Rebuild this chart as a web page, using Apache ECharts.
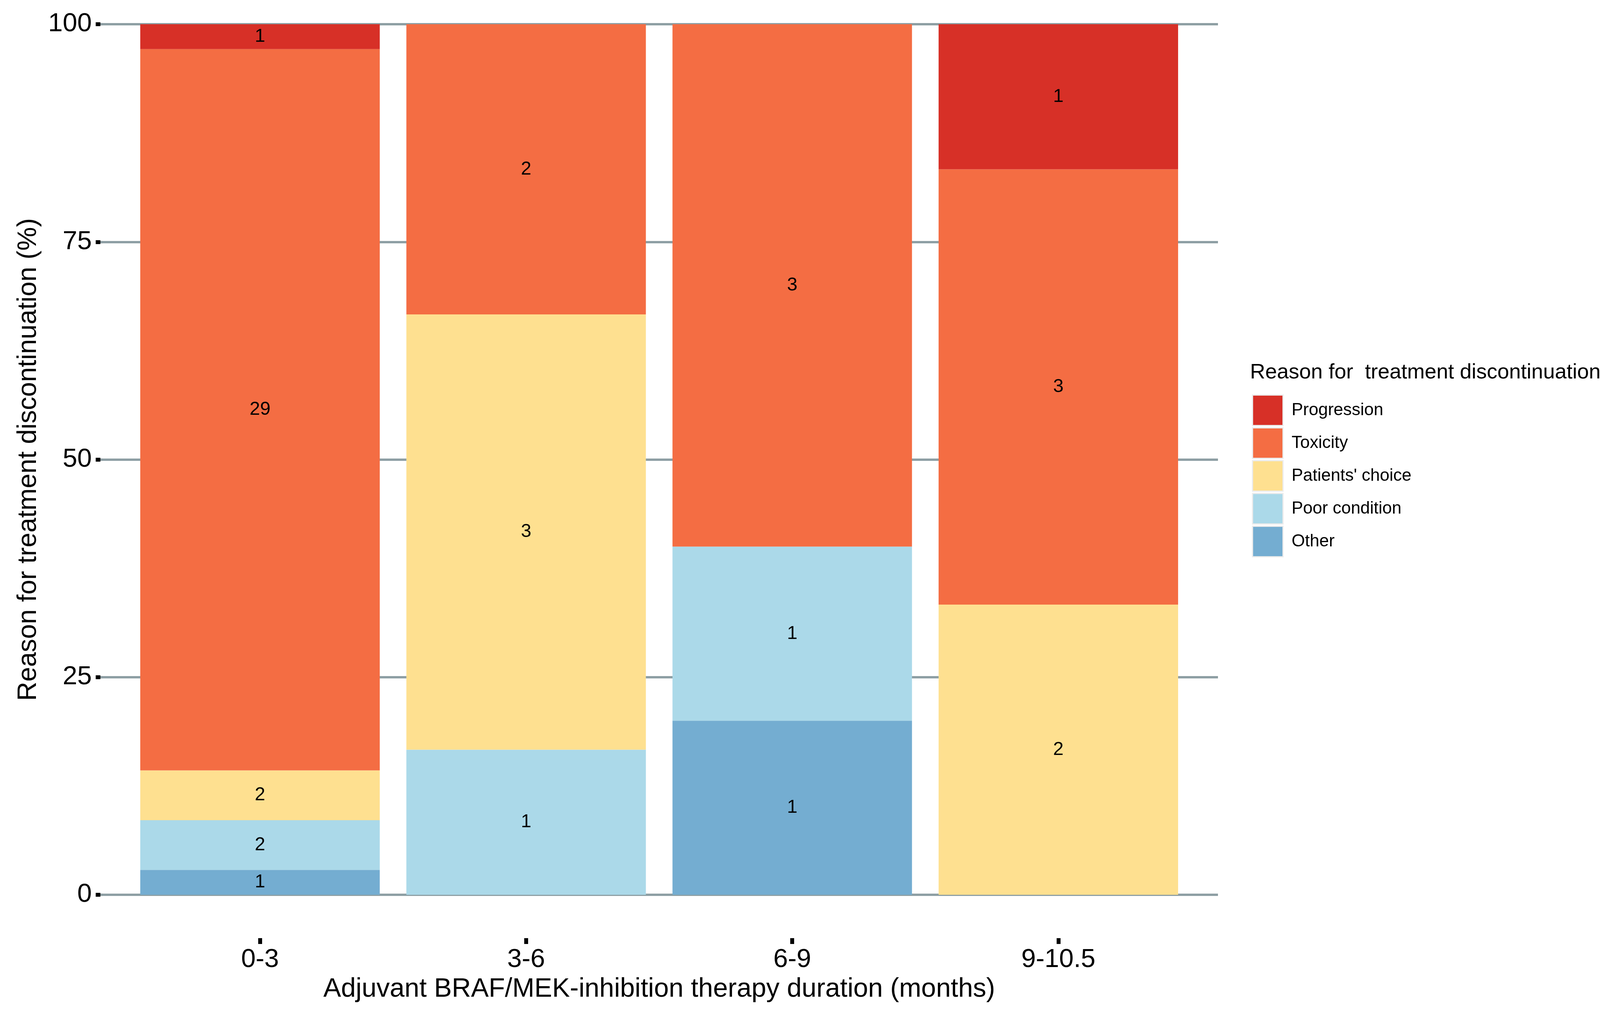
<!DOCTYPE html>
<html><head><meta charset="utf-8">
<script src="https://cdn.jsdelivr.net/npm/echarts@6/dist/echarts.min.js"></script>
<style>html,body{margin:0;padding:0;background:#fff}#c{width:4133px;height:2586px}</style>
</head><body><div id="c"></div>
<script>
// ---- data (counts) ----
const categories = ['0-3', '3-6', '6-9', '9-10.5'];
const progression    = [1, 0, 0, 1];
const toxicity       = [29, 2, 3, 3];
const patientsChoice = [2, 3, 0, 2];
const poorCondition  = [2, 1, 1, 0];
const other          = [1, 0, 1, 0];
const yTickValues = [0, 25, 50, 75, 100];
const legendTitle = 'Reason for  treatment discontinuation:';
const xTitle = 'Adjuvant BRAF/MEK-inhibition therapy duration (months)';
const yTitle = 'Reason for treatment discontinuation (%)';

const FONT = 'Liberation Sans, Arial, Helvetica, sans-serif';
const groups = [
  { name: 'Other', counts: other, color: '#74add1' },
  { name: 'Poor condition', counts: poorCondition, color: '#abd9e9' },
  { name: "Patients' choice", counts: patientsChoice, color: '#fee090' },
  { name: 'Toxicity', counts: toxicity, color: '#f46d43' },
  { name: 'Progression', counts: progression, color: '#d73027' }
];
const totals = categories.map((_, i) => groups.reduce((s, g) => s + g.counts[i], 0));

const series = groups.map(g => ({
  name: g.name,
  type: 'bar',
  stack: 'total',
  xAxisIndex: 1,
  yAxisIndex: 1,
  barCategoryGap: '10%',
  itemStyle: { color: g.color },
  label: {
    show: true, position: 'inside', fontSize: 48, color: '#000', fontFamily: FONT,
    formatter: p => p.data.count
  },
  data: g.counts.map((c, i) => c > 0 ? { value: c / totals[i] * 100, count: c } : '-')
}));

const chart = echarts.init(document.getElementById('c'));
chart.setOption({
  animation: false,
  backgroundColor: '#fff',
  textStyle: { fontFamily: FONT },
  grid: [
    { left: 257, right: 1015, top: 62, bottom: 295, containLabel: false },
    { left: 325, right: 1083, top: 62, bottom: 295, containLabel: false }
  ],
  xAxis: [
    { gridIndex: 0, type: 'value', min: 0, max: 1, show: false },
    {
      gridIndex: 1, type: 'category', data: categories, offset: 111,
      axisLine: { show: false, onZero: false },
      axisTick: { show: true, alignWithLabel: true, length: 15, lineStyle: { color: '#000', width: 10 } },
      axisLabel: { fontSize: 67, color: '#000', margin: 22, fontFamily: FONT },
      splitLine: { show: false },
      name: xTitle, nameLocation: 'middle', nameGap: 97,
      nameTextStyle: { fontSize: 68, color: '#000', fontFamily: FONT }
    }
  ],
  yAxis: [
    {
      gridIndex: 0, type: 'value', min: 0, max: 100, interval: 25,
      axisLine: { show: false },
      axisTick: { show: true, length: 12, lineStyle: { color: '#000', width: 10 } },
      axisLabel: { fontSize: 67, color: '#000', margin: 22, fontFamily: FONT,
        customValues: yTickValues },
      splitLine: { show: true, lineStyle: { color: '#8e9fa4', width: 6 } },
      name: yTitle, nameLocation: 'middle', nameGap: 150,
      nameTextStyle: { fontSize: 68, color: '#000', fontFamily: FONT }
    },
    { gridIndex: 1, type: 'value', min: 0, max: 100, show: false }
  ],
  legend: {
    orient: 'vertical', left: 3200, top: 1005,
    itemWidth: 78, itemHeight: 78, itemGap: 3, icon: 'rect',
    selectedMode: false,
    itemStyle: { borderColor: '#ebebeb', borderWidth: 3 },
    data: ['Progression', 'Toxicity', "Patients' choice", 'Poor condition', 'Other'],
    textStyle: { fontSize: 44, color: '#000', fontFamily: FONT, padding: [0, 0, 0, 17] }
  },
  graphic: [{
    type: 'text', left: 3200, top: 927,
    style: { text: legendTitle, fontSize: 54, fill: '#000', fontFamily: FONT }
  }],
  series: series
});
</script></body></html>
